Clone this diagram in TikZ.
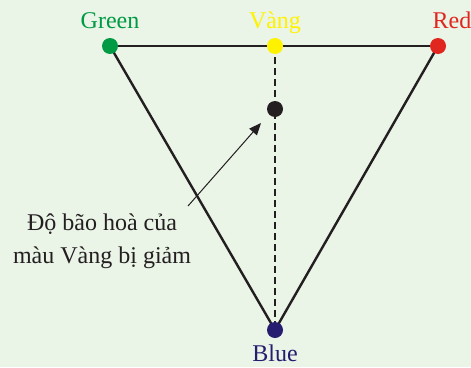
\documentclass[tikz,border=0pt]{standalone}
\usepackage{fontspec}
\setmainfont{Liberation Serif}
\usetikzlibrary{arrows.meta}
\definecolor{bg}{HTML}{EAF4E7}
\definecolor{cgreen}{HTML}{009A44}
\definecolor{cyellow}{HTML}{FFF200}
\definecolor{cred}{HTML}{E0261F}
\definecolor{cblue}{HTML}{261C70}
\definecolor{cdark}{HTML}{231F20}
\begin{document}
\begin{tikzpicture}[x=1pt,y=-1pt,
  dot/.style={circle,inner sep=0pt,minimum size=16pt},
  lbl/.style={font=\fontsize{24}{33}\selectfont,inner sep=0pt},
  edge/.style={line width=2.4pt,draw=cdark}]
\fill[bg] (0,0) rectangle (471,367);
\useasboundingbox (0,0) rectangle (471,367);
\coordinate (G) at (110,46);
\coordinate (Y) at (275,46);
\coordinate (R) at (438,46);
\coordinate (B) at (275,330);
\coordinate (K) at (275,109);
\draw[edge] (G) -- (R);
\draw[edge] (G) -- (B) -- (R);
\draw[line width=2.4pt,draw=cdark,dash pattern=on 7pt off 4pt] (Y) -- (B);
\node[dot,fill=cgreen] (g) at (G) {};
\node[dot,fill=cyellow] (y) at (Y) {};
\node[dot,fill=cred] (r) at (R) {};
\node[dot,fill=cblue] (b) at (B) {};
\node[dot,fill=cdark] (k) at (K) {};
\node[lbl,text=cgreen,anchor=base] (tg) at (110,28) {Green};
\node[lbl,text=cyellow,anchor=base] (ty) at (275,28) {Vàng};
\node[lbl,text=cred,anchor=base] (tr) at (452,28) {Red};
\node[lbl,text=cblue,anchor=base] (tb) at (275,361) {Blue};
\node[lbl,text=cdark,align=center,anchor=base] (ta) at (102,263) {Độ bão hoà của\\màu Vàng bị giảm};
\coordinate (tail) at (188,206);
\coordinate (tip) at (261,123);
\draw[line width=1pt,draw=cdark,-{Triangle[length=12pt,width=10pt]}] (tail) -- (tip);
\end{tikzpicture}
\end{document}
